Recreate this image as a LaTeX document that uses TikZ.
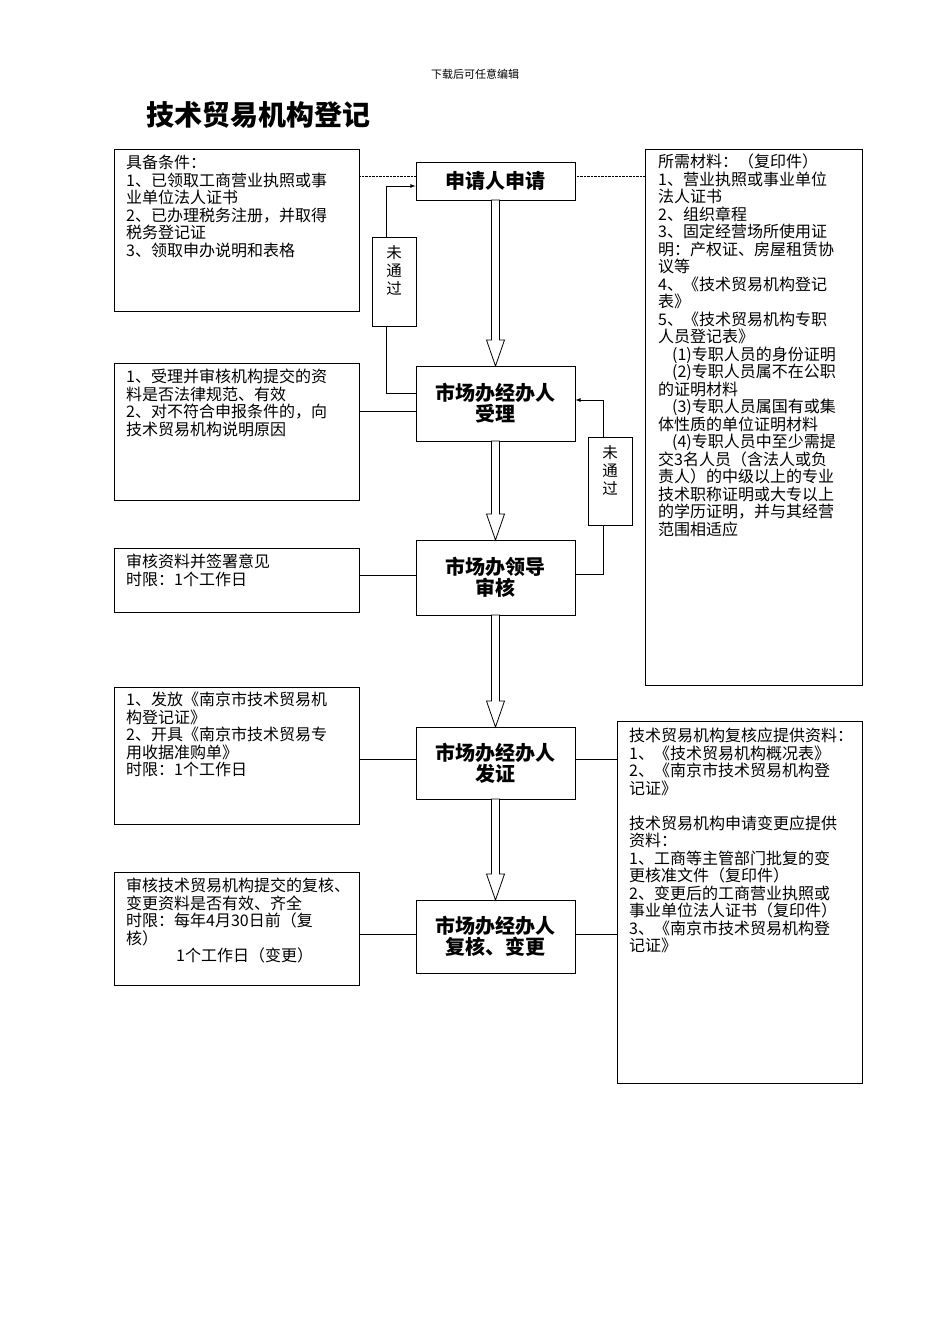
\documentclass[tikz,border=0pt]{standalone}
\usepackage{fontspec}
\setmainfont{Noto Sans CJK SC}
\begin{document}
\begin{tikzpicture}[x=1pt,y=-1pt,
  bx/.style={draw,line width=0.8pt},
  txt/.style={anchor=north west,align=left,inner sep=0pt,font=\fontsize{16}{17.5}\selectfont},
  cbox/.style={draw,line width=0.8pt,fill=white,minimum width=159pt,align=center,font=\fontsize{20}{21}\selectfont\bfseries,inner sep=2pt},
  ln/.style={line width=0.8pt}]
\useasboundingbox (0,0) rectangle (950,1344);
\newcommand{\harrow}[3]{\draw[ln,fill=white] (#1-4,#2)--(#1-4,#3-26)--(#1-9,#3-26)--(#1,#3)--(#1+9,#3-26)--(#1+4,#3-26)--(#1+4,#2)--cycle;}
\node (hdr) at (475,74) {\fontsize{11}{13}\selectfont 下载后可任意编辑};
\node[anchor=west] (title) at (143,115) {\fontsize{28}{30}\selectfont\bfseries 技术贸易机构登记};
% center nodes
\node[cbox,minimum height=38pt] (c1) at (495.5,181) {申请人申请};
\node[cbox,minimum height=75pt] (c2) at (495.5,403.5) {市场办经办人\\受理};
\node[cbox,minimum height=75pt] (c3) at (495.5,577.5) {市场办领导\\审核};
\node[cbox,minimum height=72pt] (c4) at (495.5,763) {市场办经办人\\发证};
\node[cbox,minimum height=73pt] (c5) at (495.5,936.5) {市场办经办人\\复核、变更};
% left boxes
\draw[bx] (114,149) rectangle (359,311);
\node[txt] (l1) at (126,155) {具备条件：\\1、已领取工商营业执照或事\\业单位法人证书\\2、已办理税务注册，并取得\\税务登记证\\3、领取申办说明和表格};
\draw[bx] (114,363) rectangle (359,500);
\node[txt] (l2) at (126,369) {1、受理并审核机构提交的资\\料是否法律规范、有效\\2、对不符合申报条件的，向\\技术贸易机构说明原因};
\draw[bx] (114,548) rectangle (359,612);
\node[txt] (l3) at (126,554) {审核资料并签署意见\\时限：1个工作日};
\draw[bx] (114,687) rectangle (359,824);
\node[txt] (l4) at (126,692) {1、发放《南京市技术贸易机\\构登记证》\\2、开具《南京市技术贸易专\\用收据准购单》\\时限：1个工作日};
\draw[bx] (114,872) rectangle (359,985);
\node[txt] (l5) at (126,878) {审核技术贸易机构提交的复核、\\变更资料是否有效、齐全\\时限：每年4月30日前（复\\核）\\\hspace*{50pt}1个工作日（变更）};
% right boxes
\draw[bx] (645,149) rectangle (862,685);
\node[txt] (r1) at (658,154) {所需材料：（复印件）\\1、营业执照或事业单位\\法人证书\\2、组织章程\\3、固定经营场所使用证\\明：产权证、房屋租赁协\\议等\\4、《技术贸易机构登记\\表》\\5、《技术贸易机构专职\\人员登记表》\\\hspace*{14pt}(1)专职人员的身份证明\\\hspace*{14pt}(2)专职人员属不在公职\\的证明材料\\\hspace*{14pt}(3)专职人员属国有或集\\体性质的单位证明材料\\\hspace*{14pt}(4)专职人员中至少需提\\交3名人员（含法人或负\\责人）的中级以上的专业\\技术职称证明或大专以上\\的学历证明，并与其经营\\范围相适应};
\draw[bx] (617,721) rectangle (862,1083);
\node[txt] (r2) at (629,728) {技术贸易机构复核应提供资料：\\1、《技术贸易机构概况表》\\2、《南京市技术贸易机构登\\记证》\\~\\技术贸易机构申请变更应提供\\资料：\\1、工商等主管部门批复的变\\更核准文件（复印件）\\2、变更后的工商营业执照或\\事业单位法人证书（复印件）\\3、《南京市技术贸易机构登\\记证》};
% dotted links
\draw[densely dotted] (359,176) -- (c1.west |- 0,176);
\draw[densely dotted] (c1.east |- 0,176) -- (645,176);
% hollow arrows
\harrow{495.5}{200}{366}
\harrow{495.5}{441}{540}
\harrow{495.5}{615}{727}
\harrow{495.5}{799}{900}
% fail loops
\draw[ln,-latex] (c2.west |- 0,393) -- (386,393) -- (386,186) -- (c1.west |- 0,186);
\draw[bx,fill=white] (372,237) rectangle (416,326);
\node[align=center,font=\fontsize{15.5}{18}\selectfont] (f1) at (394,270) {未\\通\\过};
\draw[ln,-latex] (c3.east |- 0,574) -- (603,574) -- (603,400) -- (c2.east |- 0,400);
\draw[bx,fill=white] (588,437) rectangle (632,525);
\node[align=center,font=\fontsize{15.5}{18}\selectfont] (f2) at (610,470) {未\\通\\过};
% side links
\draw[ln] (359,411) -- (c2.west |- 0,411);
\draw[ln] (359,575) -- (c3.west |- 0,575);
\draw[ln] (359,759) -- (c4.west |- 0,759);
\draw[ln] (359,934) -- (c5.west |- 0,934);
\draw[ln] (c4.east |- 0,759) -- (617,759);
\draw[ln] (c5.east |- 0,934) -- (617,934);
\end{tikzpicture}
\end{document}
